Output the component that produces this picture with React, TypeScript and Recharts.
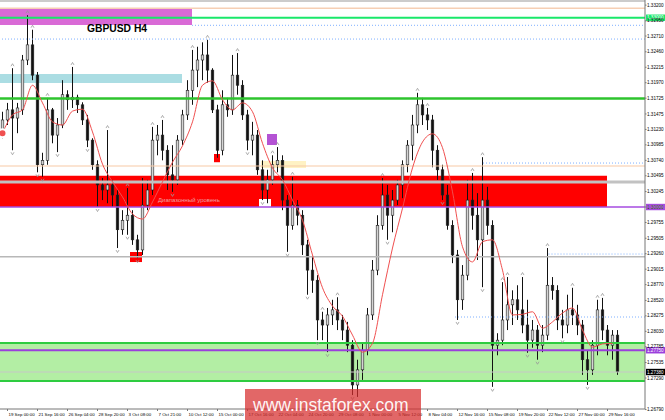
import React from "react";
import {
  ComposedChart,
  Bar,
  Line,
  Scatter,
  XAxis,
  YAxis,
  ReferenceArea,
  ReferenceLine,
} from "recharts";

// GBPUSD H4 candles (one candle per ~2.7 bars)
const opens = [
  1.3122, 1.3138, 1.3154, 1.3141, 1.3154, 1.3233, 1.3257, 1.3209, 1.3067, 1.3074,
  1.3154, 1.3114, 1.313, 1.3178, 1.317, 1.3174, 1.3162, 1.3138, 1.3106, 1.3067,
  1.3035, 1.3027, 1.3035, 1.3019, 1.2964, 1.2979, 1.2987, 1.2948, 1.2932, 1.3003,
  1.3027, 1.3106, 1.3114, 1.309, 1.3051, 1.3043, 1.3106, 1.3146, 1.3185, 1.3217,
  1.3233, 1.3241, 1.3217, 1.3154, 1.309, 1.3162, 1.3154, 1.3209, 1.3193, 1.3146,
  1.3106, 1.3114, 1.3059, 1.3027, 1.3043, 1.3067, 1.3074, 1.3011, 1.2971, 1.3003,
  1.2987, 1.294, 1.29, 1.2884, 1.2821, 1.2813, 1.2829, 1.2837, 1.2821, 1.2805,
  1.2781, 1.2718, 1.2742, 1.2773, 1.2829, 1.29, 1.2971, 1.3019, 1.2987, 1.3011,
  1.3035, 1.3067, 1.3098, 1.313, 1.3162, 1.3146, 1.3138, 1.309, 1.3059, 1.3019,
  1.2971, 1.2924, 1.2853, 1.2892, 1.3011, 1.2987, 1.2948, 1.3011, 1.2971, 1.2781,
  1.2789, 1.2821, 1.2845, 1.2853, 1.2837, 1.2813, 1.2789, 1.2805, 1.2781, 1.2797,
  1.2876, 1.2868, 1.2821, 1.2813, 1.2837, 1.2829, 1.2813, 1.2758, 1.2742, 1.2781,
  1.2837, 1.2805, 1.2781, 1.2797,
];
const highs = [
  1.3151, 1.3165, 1.322, 1.3165, 1.3241, 1.3304, 1.3281, 1.3214, 1.3086, 1.3173,
  1.3157, 1.3141, 1.3201, 1.3185, 1.3222, 1.3178, 1.3166, 1.3146, 1.3109, 1.3074,
  1.3046, 1.3122, 1.3043, 1.3027, 1.2995, 1.303, 1.2995, 1.2956, 1.3046, 1.3043,
  1.3127, 1.313, 1.3138, 1.3098, 1.3098, 1.3114, 1.3154, 1.3201, 1.3249, 1.3254,
  1.3261, 1.3265, 1.322, 1.3162, 1.3185, 1.3173, 1.3241, 1.3244, 1.3201, 1.3154,
  1.3135, 1.3122, 1.3074, 1.3059, 1.3082, 1.3095, 1.3082, 1.3019, 1.3048, 1.3011,
  1.2995, 1.2948, 1.2921, 1.2892, 1.2834, 1.284, 1.2853, 1.2857, 1.2829, 1.2818,
  1.2789, 1.2758, 1.2784, 1.284, 1.2916, 1.2987, 1.3046, 1.3035, 1.3027, 1.3043,
  1.3074, 1.3106, 1.3146, 1.3181, 1.3173, 1.3157, 1.3146, 1.3098, 1.3067, 1.3035,
  1.2979, 1.2932, 1.2908, 1.3043, 1.3054, 1.3022, 1.3079, 1.3032, 1.2979, 1.28,
  1.2881, 1.2889, 1.2868, 1.2876, 1.2889, 1.2853, 1.2821, 1.2813, 1.2813, 1.2935,
  1.2889, 1.2876, 1.2837, 1.2861, 1.2872, 1.2845, 1.2821, 1.2773, 1.2789, 1.2853,
  1.2856, 1.2813, 1.2805, 1.2805,
];
const lows = [
  1.3109, 1.313, 1.309, 1.3117, 1.3146, 1.3225, 1.3201, 1.3055, 1.3048, 1.3067,
  1.3101, 1.3087, 1.3125, 1.3154, 1.3157, 1.3149, 1.313, 1.3095, 1.3059, 1.3,
  1.3011, 1.3006, 1.3, 1.2935, 1.2956, 1.2956, 1.294, 1.2919, 1.2924, 1.2995,
  1.3019, 1.3082, 1.3074, 1.3027, 1.3024, 1.3035, 1.3098, 1.3138, 1.3162, 1.319,
  1.3201, 1.3197, 1.3149, 1.3078, 1.3082, 1.3143, 1.3146, 1.3178, 1.3138, 1.309,
  1.3082, 1.3051, 1.3011, 1.3006, 1.3035, 1.3055, 1.2995, 1.2929, 1.2964, 1.2971,
  1.2924, 1.2861, 1.2864, 1.2789, 1.2789, 1.277, 1.2813, 1.2805, 1.2789, 1.277,
  1.2702, 1.2699, 1.2726, 1.2765, 1.2821, 1.2892, 1.2964, 1.2948, 1.296, 1.3003,
  1.3014, 1.3055, 1.3074, 1.3117, 1.313, 1.3122, 1.3063, 1.3043, 1.3011, 1.2964,
  1.2911, 1.2821, 1.2837, 1.2884, 1.2964, 1.2916, 1.2873, 1.2956, 1.2715, 1.2765,
  1.2781, 1.2805, 1.2813, 1.2821, 1.28, 1.2769, 1.2777, 1.2758, 1.277, 1.2789,
  1.2853, 1.2805, 1.2792, 1.28, 1.2813, 1.2797, 1.2734, 1.2718, 1.2734, 1.2765,
  1.2789, 1.2765, 1.2758, 1.2734,
];
const closes = [
  1.3138, 1.3154, 1.3141, 1.3157, 1.3233, 1.3257, 1.3209, 1.3067, 1.3074, 1.3154,
  1.3114, 1.313, 1.3178, 1.317, 1.3174, 1.3162, 1.3138, 1.3106, 1.3067, 1.3035,
  1.3027, 1.3035, 1.3019, 1.2964, 1.2979, 1.2987, 1.2948, 1.2932, 1.3003, 1.3027,
  1.3106, 1.3114, 1.309, 1.3051, 1.3043, 1.3106, 1.3146, 1.3185, 1.3217, 1.3233,
  1.3241, 1.3217, 1.3154, 1.309, 1.3162, 1.3154, 1.3209, 1.3193, 1.3146, 1.3106,
  1.3114, 1.3059, 1.3027, 1.3043, 1.3067, 1.3074, 1.3011, 1.2971, 1.3003, 1.2987,
  1.294, 1.29, 1.2884, 1.2821, 1.2813, 1.2829, 1.2837, 1.2821, 1.2805, 1.2781,
  1.2718, 1.2742, 1.2773, 1.2829, 1.29, 1.2971, 1.3019, 1.2987, 1.3011, 1.3035,
  1.3067, 1.3098, 1.313, 1.3162, 1.3146, 1.3138, 1.309, 1.3059, 1.3019, 1.2971,
  1.2924, 1.2853, 1.2892, 1.3011, 1.2987, 1.2948, 1.3011, 1.2971, 1.2781, 1.2789,
  1.2821, 1.2845, 1.2853, 1.2837, 1.2813, 1.2789, 1.2805, 1.2781, 1.2797, 1.2876,
  1.2868, 1.2821, 1.2813, 1.2837, 1.2829, 1.2813, 1.2758, 1.2742, 1.2781, 1.2837,
  1.2805, 1.2781, 1.2797, 1.2739,
];

// red moving average, read at every second candle
const maValues = [
  1.3117, 1.3146, 1.3154, 1.3193, 1.3165, 1.3135, 1.313, 1.3152, 1.3155, 1.3119,
  1.3068, 1.304, 1.3016, 1.2989, 1.2981, 1.3008, 1.304, 1.3071, 1.3097, 1.3135,
  1.3193, 1.32, 1.317, 1.3154, 1.3165, 1.3151, 1.3101, 1.3062, 1.3043, 1.3011,
  1.2979, 1.2924, 1.2872, 1.2843, 1.2827, 1.2797, 1.277, 1.2784, 1.2861, 1.2935,
  1.2998, 1.3062, 1.3103, 1.3116, 1.3094, 1.3024, 1.2937, 1.2913, 1.2945, 1.2948,
  1.29, 1.2829, 1.283, 1.2834, 1.2808, 1.2818, 1.2832, 1.284, 1.2805, 1.2778,
  1.2783, 1.2784,
];

// candles carrying a fractal arrow
const fractalUp = [
  2, 5, 6, 9, 14, 21, 25, 30, 32, 38, 41, 47, 54, 55, 58, 64, 67, 76, 83, 85,
  94, 96, 100, 101, 104, 109, 114, 119, 120,
];
const fractalDown = [
  2, 7, 8, 11, 17, 19, 23, 25, 27, 34, 49, 52, 57, 61, 63, 65, 70, 77, 88, 91,
  96, 98, 105, 107, 112, 117,
];

const timeLabels = [
  "19 Sep 00:00", "21 Sep 16:00", "26 Sep 04:00", "28 Sep 20:00", "3 Oct 08:00",
  "7 Oct 21:00", "10 Oct 12:00", "15 Oct 00:00", "17 Oct 16:00", "22 Oct 04:00",
  "24 Oct 20:00", "29 Oct 08:00", "1 Nov 00:00", "5 Nov 12:00", "8 Nov 04:00",
  "12 Nov 16:00", "15 Nov 08:00", "19 Nov 20:00", "22 Nov 12:00", "27 Nov 00:00",
  "29 Nov 16:00",
];

const priceTicks = [
  1.332, 1.3295, 1.3271, 1.3246, 1.32215, 1.3197, 1.31725, 1.31475, 1.3123,
  1.30985, 1.3074, 1.30495, 1.30245, 1.3, 1.29755, 1.29505, 1.2926, 1.29015,
  1.2877, 1.2852, 1.28275, 1.2803, 1.27785, 1.27535, 1.2729, 1.2679,
];

const data = opens.map((open, i) => ({
  i,
  open,
  high: highs[i],
  low: lows[i],
  close: closes[i],
  range: [lows[i], highs[i]],
  ma: i % 2 === 0 ? maValues[i / 2] : null,
}));

const upMarks = fractalUp.map((i) => ({ i, v: highs[i] }));
const downMarks = fractalDown.map((i) => ({ i, v: lows[i] }));

const xTicks = timeLabels.map((_, k) => 1 + k * 6);

const Candle = (props: any) => {
  const { x, y, width, height, payload } = props;
  if (!payload || !height) return null;
  const { open, close, high, low } = payload;
  const k = height / (high - low);
  const cx = x + width / 2;
  const yo = y + (high - open) * k;
  const yc = y + (high - close) * k;
  const up = close >= open;
  return (
    <g>
      <line x1={cx} x2={cx} y1={y} y2={y + height} stroke="#111" strokeWidth={1} />
      <rect
        x={cx - 1.3}
        y={Math.min(yo, yc)}
        width={2.6}
        height={Math.max(Math.abs(yo - yc), 1)}
        fill={up ? "#d4d4d4" : "#111"}
        stroke="#222"
        strokeWidth={0.6}
      />
    </g>
  );
};

const UpArrow = (props: any) => {
  const { cx, cy } = props;
  return (
    <path
      d={`M${cx - 1.5},${cy - 2} L${cx},${cy - 4.5} L${cx + 1.5},${cy - 2}`}
      stroke="#999"
      strokeWidth={0.8}
      fill="none"
    />
  );
};

const DownArrow = (props: any) => {
  const { cx, cy } = props;
  return (
    <path
      d={`M${cx - 1.5},${cy + 2} L${cx},${cy + 4.5} L${cx + 1.5},${cy + 2}`}
      stroke="#999"
      strokeWidth={0.8}
      fill="none"
    />
  );
};

const XTick = (props: any) => {
  const { x, y, payload } = props;
  const idx = xTicks.indexOf(payload.value);
  return (
    <text x={x + 1} y={y + 5} fontSize={4.4} fill="#000" textAnchor="start">
      {timeLabels[idx]}
    </text>
  );
};

const YTick = (props: any) => {
  const { x, y, payload } = props;
  return (
    <text x={x} y={y + 1.6} fontSize={4.6} fill="#000" textAnchor="start">
      {payload.value.toFixed(5)}
    </text>
  );
};

const Badge = (props: any) => {
  const { viewBox, text, bg, fg } = props;
  if (!viewBox) return null;
  const right = viewBox.x + viewBox.width;
  return (
    <g>
      <rect x={right + 1} y={viewBox.y - 3.2} width={19} height={6.4} fill={bg} />
      <text x={right + 2} y={viewBox.y + 1.6} fontSize={4.6} fill={fg}>
        {text}
      </text>
    </g>
  );
};

const dotted = { stroke: "#7fb0ff", strokeDasharray: "1 2", strokeWidth: 1 };

export default function App() {
  return (
    <div
      style={{
        position: "absolute",
        left: 0,
        top: 0,
        width: 665,
        height: 420,
        background: "#fff",
        overflow: "hidden",
        fontFamily: '"Liberation Sans", Arial, sans-serif',
      }}
    >
      <ComposedChart
        width={665}
        height={420}
        data={data}
        margin={{ top: 0, right: 0, bottom: 0, left: 0 }}
      >
        <XAxis
          type="number"
          dataKey="i"
          domain={[-0.5, 128.5]}
          ticks={xTicks}
          interval={0}
          height={11}
          tickSize={2}
          tickMargin={0}
          tick={<XTick />}
          axisLine={{ stroke: "#777" }}
          tickLine={{ stroke: "#777" }}
        />
        <YAxis
          orientation="right"
          domain={[1.26799, 1.33281]}
          allowDataOverflow
          ticks={priceTicks}
          interval={0}
          width={20}
          tickSize={1.5}
          tickMargin={0.5}
          tick={<YTick />}
          axisLine={{ stroke: "#777" }}
          tickLine={{ stroke: "#777" }}
        />

        {/* zones */}
        <ReferenceArea x1={-0.5} x2={37.9} y1={1.32884} y2={1.33138} fill="#d96ad6" fillOpacity={1} stroke="none" />
        <ReferenceArea x1={-0.5} x2={35.9} y1={1.31965} y2={1.32108} fill="#abdde3" fillOpacity={1} stroke="none" />
        <ReferenceArea x1={-0.5} x2={120.9} y1={1.3} y2={1.30495} fill="#ff0000" fillOpacity={1} stroke="none" />
        <ReferenceArea y1={1.27242} y2={1.27845} fill="#b3eea4" fillOpacity={1} stroke="none" />
        <ReferenceArea x1={51.7} x2={60.7} y1={1.30618} y2={1.3073} fill="#fff2c4" fillOpacity={1} stroke="none" />

        {/* levels */}
        <ReferenceLine y={1.33265} stroke="#999" strokeWidth={1} />
        <ReferenceLine y={1.3315} stroke="#f6cfb4" strokeWidth={1.5} />
        <ReferenceLine y={1.33} stroke="#19e86a" strokeWidth={2} label={<Badge text="1.33000" bg="#19e86a" fg="#fff" />} />
        <ReferenceLine segment={[{ x: 37.9, y: 1.3288 }, { x: 128.5, y: 1.3288 }]} {...dotted} />
        <ReferenceLine y={1.32662} {...dotted} />
        <ReferenceLine y={1.3172} stroke="#2ec42e" strokeWidth={2.5} />
        <ReferenceLine y={1.3065} stroke="#f7c9a6" strokeWidth={1.2} />
        <ReferenceLine segment={[{ x: 96.1, y: 1.30697 }, { x: 128.5, y: 1.30697 }]} {...dotted} />
        <ReferenceLine y={1.30396} stroke="#c2c2c2" strokeWidth={3} />
        <ReferenceLine y={1.3} stroke="#a64be0" strokeWidth={1.5} label={<Badge text="1.30000" bg="#a64be0" fg="#fff" />} />
        <ReferenceLine y={1.2921} stroke="#b8b8b8" strokeWidth={1.5} />
        <ReferenceLine segment={[{ x: 109.2, y: 1.29255 }, { x: 128.5, y: 1.29255 }]} {...dotted} />
        <ReferenceLine segment={[{ x: 90.5, y: 1.28257 }, { x: 128.5, y: 1.28257 }]} {...dotted} />
        <ReferenceLine y={1.27845} stroke="#2ecc40" strokeWidth={2} />
        <ReferenceLine y={1.27242} stroke="#2ecc40" strokeWidth={2} />
        <ReferenceLine y={1.2773} stroke="#9b3fdc" strokeWidth={2} label={<Badge text="1.27750" bg="#9b3fdc" fg="#fff" />} />
        <ReferenceLine y={1.27385} stroke="#c8c8c8" strokeWidth={1} label={<Badge text="1.27380" bg="#000" fg="#fff" />} />

        {/* small markers */}
        <ReferenceArea x1={52.9} x2={54.9} y1={1.30983} y2={1.31157} fill="#b453d4" fillOpacity={1} stroke="none" />
        <ReferenceArea x1={42.3} x2={43.5} y1={1.3071} y2={1.3084} fill="#ff0000" fillOpacity={1} stroke="none" />
        <ReferenceArea x1={25.5} x2={27.9} y1={1.29128} y2={1.29287} fill="#ff0000" fillOpacity={1} stroke="none" />
        <ReferenceArea x1={51.3} x2={53.7} y1={1.3} y2={1.30127} fill="#ffffff" fillOpacity={1} stroke="none" />

        <Bar dataKey="range" barSize={3} shape={<Candle />} isAnimationActive={false} />
        <Line
          dataKey="ma"
          type="monotone"
          stroke="#f05050"
          strokeWidth={1}
          dot={false}
          connectNulls
          isAnimationActive={false}
        />
        <Scatter data={upMarks} dataKey="v" shape={<UpArrow />} isAnimationActive={false} />
        <Scatter data={downMarks} dataKey="v" shape={<DownArrow />} isAnimationActive={false} />
      </ComposedChart>

      <svg
        width={665}
        height={420}
        style={{ position: "absolute", left: 0, top: 0, pointerEvents: "none" }}
      >
        <text x={87} y={32} fontSize={10.3} fontWeight="bold" fill="#000">
          GBPUSD H4
        </text>
        <text x={158} y={202} fontSize={6} fill="#eea2a2">
          Диапазонный уровень
        </text>
        <rect x={245} y={389} width={176} height={31} fill="rgb(215,45,45)" fillOpacity={0.72} />
        <text x={253} y={411} fontSize={17.5} fill="#fff" fillOpacity={0.95}>
          www.instaforex.com
        </text>
      </svg>
    </div>
  );
}
